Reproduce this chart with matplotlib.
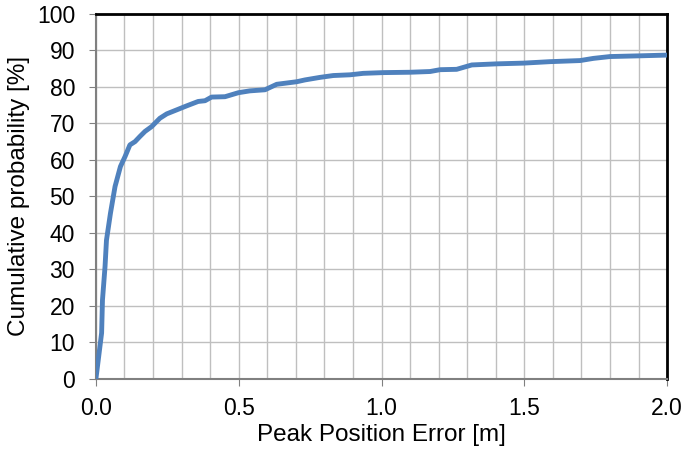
import numpy as np
import matplotlib
matplotlib.use("Agg")
import matplotlib.pyplot as plt
from matplotlib.ticker import MultipleLocator

plt.rcParams['font.family'] = ['Liberation Sans', 'DejaVu Sans']

# values
error_m = [0.0, 0.02, 0.023, 0.032, 0.037, 0.051, 0.067, 0.086, 0.102, 0.119,
           0.137, 0.154, 0.172, 0.195, 0.224, 0.248, 0.283, 0.318, 0.358, 0.382,
           0.405, 0.452, 0.499, 0.539, 0.592, 0.633, 0.703, 0.732, 0.785, 0.831,
           0.89, 0.936, 1.006, 1.1, 1.17, 1.205, 1.263, 1.316, 1.403, 1.497,
           1.59, 1.695, 1.742, 1.8, 1.905, 2.0]
cum_prob = [0.0, 12.6, 21.6, 30.8, 38.0, 45.4, 52.7, 58.2, 60.9, 64.1,
            65.0, 66.4, 67.8, 69.1, 71.4, 72.6, 73.7, 74.8, 76.0, 76.2,
            77.2, 77.3, 78.4, 78.9, 79.2, 80.7, 81.4, 81.9, 82.6, 83.1,
            83.3, 83.7, 83.9, 84.0, 84.2, 84.7, 84.8, 86.0, 86.3, 86.5,
            86.9, 87.2, 87.8, 88.3, 88.5, 88.7]

fig = plt.figure(figsize=(6.85, 4.61), dpi=100)
ax = fig.add_axes([0.140, 0.178, 0.834, 0.792])

ax.plot(error_m, cum_prob, color='#4f81bd', linewidth=3.5,
        solid_joinstyle='round', solid_capstyle='butt', zorder=3)

ax.set_xlim(0, 2.0)
ax.set_ylim(0, 100)
ax.xaxis.set_major_locator(MultipleLocator(0.5))
ax.xaxis.set_minor_locator(MultipleLocator(0.1))
ax.yaxis.set_major_locator(MultipleLocator(10))
ax.xaxis.set_major_formatter(matplotlib.ticker.FormatStrFormatter('%.1f'))

ax.grid(True, which='both', color='#bfbfbf', linewidth=1.0)
ax.tick_params(which='minor', length=0)
ax.tick_params(which='major', length=5, color='#808080', labelsize=16.5)
ax.tick_params(axis='y', pad=10)
ax.tick_params(axis='x', pad=8)

for side in ['top', 'right']:
    ax.spines[side].set_color('black')
    ax.spines[side].set_linewidth(2.0)
for side in ['left', 'bottom']:
    ax.spines[side].set_color('#808080')
    ax.spines[side].set_linewidth(1.5)

ax.set_xlabel('Peak Position Error [m]', fontsize=17.5, labelpad=3)
ax.set_ylabel('Cumulative probability [%]', fontsize=17.5, labelpad=5)

fig.savefig('out.png', dpi=100)
